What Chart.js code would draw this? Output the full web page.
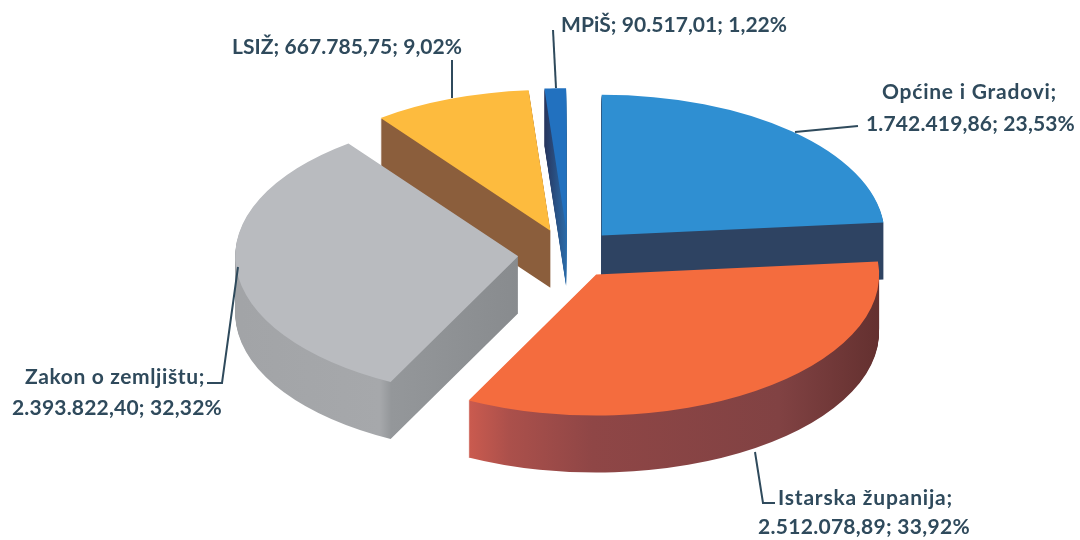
<!DOCTYPE html>
<html>
<head>
<meta charset="utf-8">
<style>
  html, body { margin: 0; padding: 0; background: #fff; }
  canvas { display: block; }
</style>
<script src="https://cdn.jsdelivr.net/npm/chart.js@4"></script>
</head>
<body>
<canvas id="fundingChart" width="1080" height="540"></canvas>
<script>
const categories = ["Općine i Gradovi", "Istarska županija", "Zakon o zemljištu", "LSIŽ", "MPiŠ"];
const amounts = [1742419.86, 2512078.89, 2393822.40, 667785.75, 90517.01];
const amountLabels = ["1.742.419,86", "2.512.078,89", "2.393.822,40", "667.785,75", "90.517,01"];
const shareLabels = ["23,53%", "33,92%", "32,32%", "9,02%", "1,22%"];
const topColors = ["#2f8fd2", "#f46c3e", "#b9bbbf", "#fdbb3e", "#2271bf"];

// back to front, so nearer slices cover the walls behind them
const drawOrder = [4, 3, 0, 2, 1];
const squash = 0.498;
const explode = 50;
const wallHeight = 57;

const wallStops = [
  [[0, "#2e4362"], [1, "#2e4362"]],
  [[0, "#cb5b4f"], [0.1, "#ab504b"], [0.3, "#8f4646"], [0.75, "#814243"], [1, "#63302f"]],
  [[0, "#a2a4a7"], [0.5, "#a6a8ab"], [0.54, "#94979a"], [1, "#888b8e"]],
  [[0, "#8b5e3c"], [1, "#8b5e3c"]],
  [[0, "#27365e"], [1, "#2b6fae"]]
];
const wallRange = [[600, 885], [468, 882], [240, 520], [383, 552], [545, 568]];

const textColor = "#2f4a5c";

function wallFill(ctx, i, dx) {
  const g = ctx.createLinearGradient(wallRange[i][0] - dx, 0, wallRange[i][1] - dx, 0);
  wallStops[i].forEach(s => g.addColorStop(s[0], s[1]));
  return g;
}

function drawSlice(ctx, el, depth, fill) {
  const mid = (el.startAngle + el.endAngle) / 2;
  const copy = Object.create(el);
  copy.options = Object.assign({}, el.options, { backgroundColor: fill });
  ctx.save();
  ctx.translate(el.x, el.y + depth);
  ctx.scale(1, squash);
  ctx.translate(Math.cos(mid) * explode, Math.sin(mid) * explode);
  ctx.translate(-el.x, -el.y);
  copy.draw(ctx);
  ctx.restore();
}

const pie3d = {
  id: "pie3d",
  beforeDatasetsDraw(chart) {
    const ctx = chart.ctx;
    const arcs = chart.getDatasetMeta(0).data;
    drawOrder.forEach(i => {
      const el = arcs[i];
      const mid = (el.startAngle + el.endAngle) / 2;
      const wall = wallFill(ctx, i, Math.cos(mid) * explode);
      for (let d = wallHeight; d > 0; d--) drawSlice(ctx, el, d, wall);
      drawSlice(ctx, el, 0, topColors[i]);
    });
    return false;
  }
};

// the scan has uneven letter spacing, so each line is stretched to its width
function fitText(ctx, text, x, y, width) {
  ctx.letterSpacing = "0px";
  const gap = (width - ctx.measureText(text).width) / text.length;
  ctx.letterSpacing = gap.toFixed(2) + "px";
  ctx.fillText(text, x, y);
}

const callouts = {
  id: "callouts",
  afterDraw(chart) {
    const ctx = chart.ctx;
    ctx.save();
    ctx.strokeStyle = textColor;
    ctx.lineWidth = 2;
    const leaders = [
      [[795, 132], [858, 126]],
      [[755, 452], [763, 503], [775, 503]],
      [[238, 267], [222, 383], [207, 383]],
      [[452, 60], [452, 98]],
      [[553, 30], [556, 88]]
    ];
    leaders.forEach(pts => {
      ctx.beginPath();
      pts.forEach((p, k) => (k ? ctx.lineTo(p[0], p[1]) : ctx.moveTo(p[0], p[1])));
      ctx.stroke();
    });
    ctx.fillStyle = textColor;
    ctx.font = "bold 21px Lato";
    ctx.textBaseline = "alphabetic";
    const one = i => amountLabels[i] + "; " + shareLabels[i];
    fitText(ctx, categories[0] + ";", 882, 99, 175);
    fitText(ctx, one(0), 866, 131, 209);
    fitText(ctx, categories[1] + ";", 778, 505, 175);
    fitText(ctx, one(1), 758, 534, 212);
    fitText(ctx, categories[2] + ";", 25, 384, 180);
    fitText(ctx, one(2), 12, 415, 210);
    fitText(ctx, categories[3] + "; " + one(3), 232, 54, 230);
    fitText(ctx, categories[4] + "; " + one(4), 561, 32, 226);
    ctx.restore();
  }
};

new Chart(document.getElementById("fundingChart"), {
  type: "pie",
  data: {
    labels: categories,
    datasets: [{ data: amounts, backgroundColor: topColors, borderWidth: 0, radius: 283 }]
  },
  options: {
    responsive: false,
    animation: false,
    layout: { padding: { left: 56, bottom: 32 } },
    plugins: { legend: { display: false }, tooltip: { enabled: false } }
  },
  plugins: [pie3d, callouts]
});
</script>
</body>
</html>
